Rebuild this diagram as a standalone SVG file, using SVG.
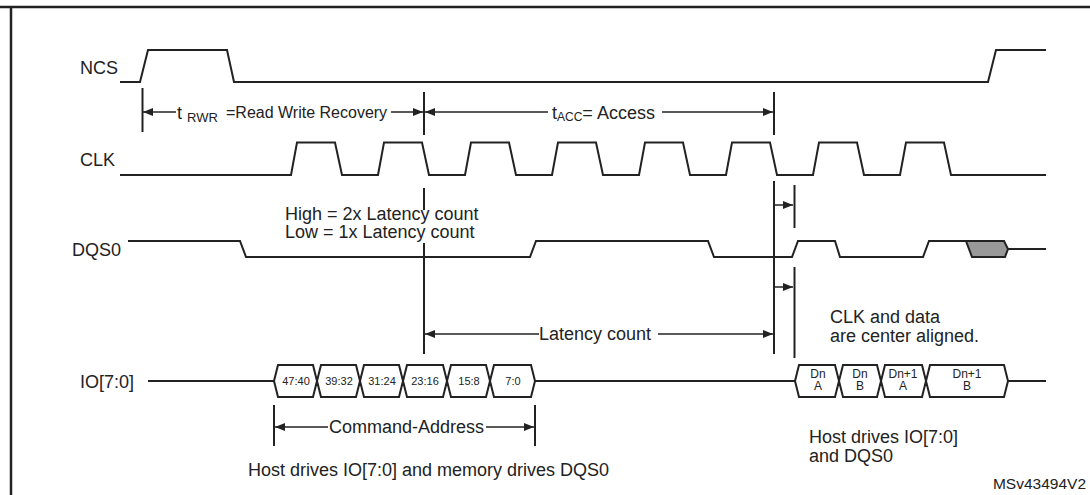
<svg xmlns="http://www.w3.org/2000/svg" width="1090" height="495" viewBox="0 0 1090 495">
<defs>
<marker id="ah" markerWidth="10" markerHeight="8" refX="10" refY="4" orient="auto-start-reverse" markerUnits="userSpaceOnUse">
<path d="M0,0 L10,4 L0,8 Z" fill="#222"/>
</marker>
</defs>
<style>
.w{fill:none;stroke:#222;stroke-width:2}
.t{stroke:#222;stroke-width:2}
.a{stroke:#222;stroke-width:1.5;fill:none}
text{font-family:"Liberation Sans",Arial,sans-serif;fill:#222}
.lb{font-size:18px}
.s{font-size:11px;text-anchor:middle}
.d{font-size:12px;text-anchor:middle}
</style>
<rect width="1090" height="495" fill="#fff"/>
<line x1="0" y1="7" x2="1090" y2="7" stroke="#222" stroke-width="2.5"/>
<line x1="11" y1="7" x2="11" y2="495" stroke="#222" stroke-width="2.5"/>

<g id="NCS">
<text class="lb" x="80" y="74">NCS</text>
<polyline class="w" points="120,82 140,82 148,50 227,50 234,82 988,82 996,50 1046,50"/>
</g>

<g id="CLK">
<text class="lb" x="80" y="166">CLK</text>
<polyline class="w" points="120,175 291,175 297,142.5 335,142.5 342,175 378,175 384,142.5 422,142.5 429,175 465,175 471,142.5 509,142.5 516,175 552,175 558,142.5 596,142.5 603,175 639,175 645,142.5 683,142.5 690,175 726,175 732,142.5 770,142.5 777,175 813,175 819,142.5 857,142.5 864,175 900,175 906,142.5 944,142.5 951,175 1046,175"/>
</g>

<g id="DQS0">
<text class="lb" x="72" y="256">DQS0</text>
<polyline class="w" points="128,241 240,241 246,257 530,257 536,241 708,241 714,257 792,257 798,241 835,241 840,257 923,257 929,241 966,241"/>
<polygon points="966,241 1004,241 1008,249 1005,257 972,257" fill="#999" stroke="#222" stroke-width="2"/>
<line class="t" x1="1008" y1="249" x2="1046" y2="249"/>
</g>

<g id="IO">
<text class="lb" x="80" y="388">IO[7:0]</text>
<line class="t" x1="148" y1="381" x2="274" y2="381"/>
<path class="w" d="M274,381 L278,365 L313,365 L321,397 L356,397 L364,365 L399,365 L407,397 L443,397 L451,365 L486,365 L494,397 L531,397 L535,381 L531,365 L494,365 L486,397 L451,397 L443,365 L407,365 L399,397 L364,397 L356,365 L321,365 L313,397 L278,397 Z"/>
<line class="t" x1="535" y1="381" x2="795" y2="381"/>
<text class="s" x="296" y="385">47:40</text>
<text class="s" x="339" y="385">39:32</text>
<text class="s" x="382" y="385">31:24</text>
<text class="s" x="425" y="385">23:16</text>
<text class="s" x="469" y="385">15:8</text>
<text class="s" x="513" y="385">7:0</text>
<path class="w" d="M795,381 L799,365 L835,365 L843,397 L877,397 L885,365 L922,365 L930,397 L1004,397 L1008,381 L1004,365 L930,365 L922,397 L885,397 L877,365 L843,365 L835,397 L799,397 Z"/>
<line class="t" x1="1008" y1="381" x2="1046" y2="381"/>
<text class="d" x="818" y="378">Dn</text><text class="d" x="818" y="390">A</text>
<text class="d" x="860" y="378">Dn</text><text class="d" x="860" y="390">B</text>
<text class="d" x="903" y="378">Dn+1</text><text class="d" x="903" y="390">A</text>
<text class="d" x="967" y="378">Dn+1</text><text class="d" x="967" y="390">B</text>
</g>

<g id="connectors">
<line class="t" x1="142.5" y1="88" x2="142.5" y2="132"/>
<line class="t" x1="424" y1="92" x2="424" y2="135"/>
<line class="t" x1="774" y1="92" x2="774" y2="135"/>
<line class="a" x1="176" y1="112" x2="143" y2="112" marker-end="url(#ah)"/>
<line class="a" x1="391" y1="112" x2="423" y2="112" marker-end="url(#ah)"/>
<line class="a" x1="548" y1="112" x2="425" y2="112" marker-end="url(#ah)"/>
<line class="a" x1="662" y1="112" x2="773" y2="112" marker-end="url(#ah)"/>
<line class="t" x1="424" y1="188" x2="424" y2="210"/>
<line class="t" x1="424" y1="243" x2="424" y2="354"/>
<line class="t" x1="774" y1="181" x2="774" y2="354"/>
<line class="t" x1="794.5" y1="185" x2="794.5" y2="228"/>
<line class="a" x1="774" y1="205" x2="793" y2="205" marker-end="url(#ah)"/>
<line class="t" x1="794.5" y1="267" x2="794.5" y2="358"/>
<line class="a" x1="774" y1="287" x2="793" y2="287" marker-end="url(#ah)"/>
<line class="a" x1="539" y1="334" x2="425" y2="334" marker-end="url(#ah)"/>
<line class="a" x1="658" y1="334" x2="773" y2="334" marker-end="url(#ah)"/>
<line class="t" x1="274" y1="405" x2="274" y2="446"/>
<line class="t" x1="535" y1="405" x2="535" y2="446"/>
<line class="a" x1="328" y1="427" x2="275" y2="427" marker-end="url(#ah)"/>
<line class="a" x1="486" y1="427" x2="534" y2="427" marker-end="url(#ah)"/>
</g>

<g id="labels">
<text x="177" y="119" font-size="18">t<tspan font-size="13" x="187" dy="3">RWR</tspan><tspan font-size="16" x="226" dy="-4">=Read Write Recovery</tspan></text>
<text x="552" y="119" font-size="18">t<tspan font-size="12" dy="2">ACC</tspan><tspan dy="-2">= Access</tspan></text>
<text class="lb" x="285" y="220">High = 2x Latency count</text>
<text class="lb" x="285" y="238">Low = 1x Latency count</text>
<text class="lb" x="539" y="340">Latency count</text>
<text class="lb" x="830" y="323">CLK and data</text>
<text class="lb" x="830" y="342">are center aligned.</text>
<text class="lb" x="329" y="433">Command-Address</text>
<text class="lb" x="248" y="476">Host drives IO[7:0] and memory drives DQS0</text>
<text class="lb" x="809" y="443">Host drives IO[7:0]</text>
<text class="lb" x="809" y="462">and DQS0</text>
<text x="1086" y="489" font-size="15.5" text-anchor="end">MSv43494V2</text>
</g>
</svg>
